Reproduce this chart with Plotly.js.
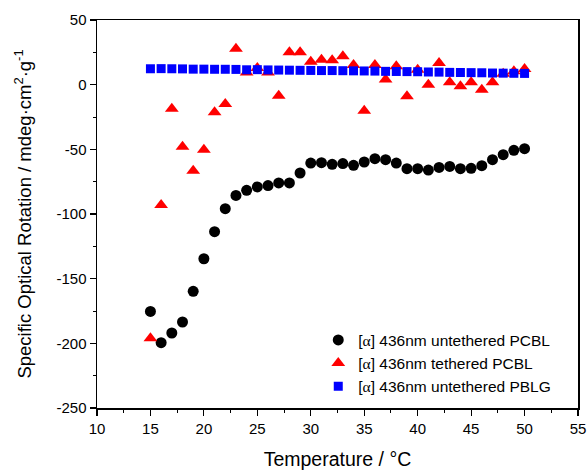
<!DOCTYPE html>
<html>
<head>
<meta charset="utf-8">
<script src="https://cdn.plot.ly/plotly-3.0.1.min.js"></script>
<style>html,body{margin:0;padding:0;background:#fff;}#chart{width:587px;height:470px;}</style>
</head>
<body>
<div id="chart"></div>
<script>
const temps = [15,16,17,18,19,20,21,22,23,24,25,26,27,28,29,30,31,32,33,34,35,36,37,38,39,40,41,42,43,44,45,46,47,48,49,50];
const untetheredPCBL = [-175.3,-199.5,-192,-183.5,-159.8,-134.6,-113.7,-95.9,-85.6,-81.7,-79.1,-78,-76,-76,-68.3,-60.6,-60.3,-61.6,-61,-62.4,-59.8,-57.2,-58,-60.6,-65,-65,-66,-64,-63.2,-65,-64.7,-62.6,-58,-54.1,-50.8,-49.5];
const tetheredPCBL = [-196,-93,-18.6,-48,-66.5,-50.3,-21.4,-15,27.8,9.5,12.9,9.5,-8.5,25,25,17.8,19.3,18.8,21.9,15.2,-20.1,15.2,3.9,14.2,-9,11.6,0,16.8,1.8,-1.3,1.8,-3.9,1.8,8.5,10.3,12.1];
const untetheredPBLG = [12.3,12.4,12.3,12.2,12.0,12.0,11.9,11.9,11.8,11.5,11.6,11.4,11.3,11.2,11.1,11.0,10.9,10.9,10.8,10.7,10.6,10.5,10.3,10.2,10.1,10.0,9.8,9.7,9.5,9.4,9.3,9.2,9.0,8.9,8.8,8.7];
const seriesNames = [
  '[<span style="font-family:\'Liberation Serif\'">α</span>] 436nm untethered PCBL',
  '[<span style="font-family:\'Liberation Serif\'">α</span>] 436nm tethered PCBL',
  '[<span style="font-family:\'Liberation Serif\'">α</span>] 436nm untethered PBLG'
];
const xTickVals = [10,15,20,25,30,35,40,45,50,55];
const xTickText = ['10','15','20','25','30','35','40','45','50','55'];
const yTickVals = [50,0,-50,-100,-150,-200,-250];
const yTickText = ['50','0','-50','-100','-150','-200','-250'];

const traces = [
  {x: temps, y: untetheredPCBL, name: seriesNames[0], mode: 'markers', type: 'scatter',
   marker: {symbol: 'circle', size: 11, color: '#000000'}},
  {x: temps, y: tetheredPCBL, name: seriesNames[1], mode: 'markers', type: 'scatter',
   marker: {symbol: 'triangle-up', size: 12, color: '#ff0000'}},
  {x: temps, y: untetheredPBLG, name: seriesNames[2], mode: 'markers', type: 'scatter',
   marker: {symbol: 'square', size: 9, color: '#0000ff'}}
];

const axisCommon = {
  showline: true, linecolor: '#000', linewidth: 1.5, mirror: true,
  ticks: 'outside', ticklen: 6, tickwidth: 1.2, tickcolor: '#000',
  showgrid: false, zeroline: false,
  tickfont: {family: 'Liberation Sans, Arial, sans-serif', size: 15, color: '#000'}
};

const layout = {
  width: 587, height: 470,
  margin: {l: 97, r: 9, t: 20, b: 62},
  paper_bgcolor: '#fff', plot_bgcolor: '#fff',
  font: {family: 'Liberation Sans, Arial, sans-serif', color: '#000'},
  showlegend: true,
  legend: {x: 0.46, y: 0.012, xanchor: 'left', yanchor: 'bottom', bgcolor: 'rgba(0,0,0,0)',
    font: {size: 15.5, family: 'Liberation Sans, Arial, sans-serif', color: '#000'}, tracegroupgap: 0},
  xaxis: Object.assign({}, axisCommon, {
    range: [10, 55], tickmode: 'array', tickvals: xTickVals, ticktext: xTickText,
    minor: {dtick: 2.5, tick0: 10, ticks: 'outside', ticklen: 3, tickwidth: 1, tickcolor: '#000'},
    title: {text: 'Temperature / °C', font: {size: 19.5, family: 'Liberation Sans, Arial, sans-serif'}, standoff: 18}
  }),
  yaxis: Object.assign({}, axisCommon, {
    range: [-250, 50], tickmode: 'array', tickvals: yTickVals, ticktext: yTickText,
    minor: {dtick: 25, tick0: 0, ticks: 'outside', ticklen: 3, tickwidth: 1, tickcolor: '#000'},
    title: {text: 'Specific Optical Rotation / mdeg·cm<sup>2</sup>·g<sup>-1</sup>', font: {size: 18.5, family: 'Liberation Sans, Arial, sans-serif'}, standoff: 20}
  })
};

Plotly.newPlot('chart', traces, layout, {displayModeBar: false, staticPlot: true});
</script>
</body>
</html>
